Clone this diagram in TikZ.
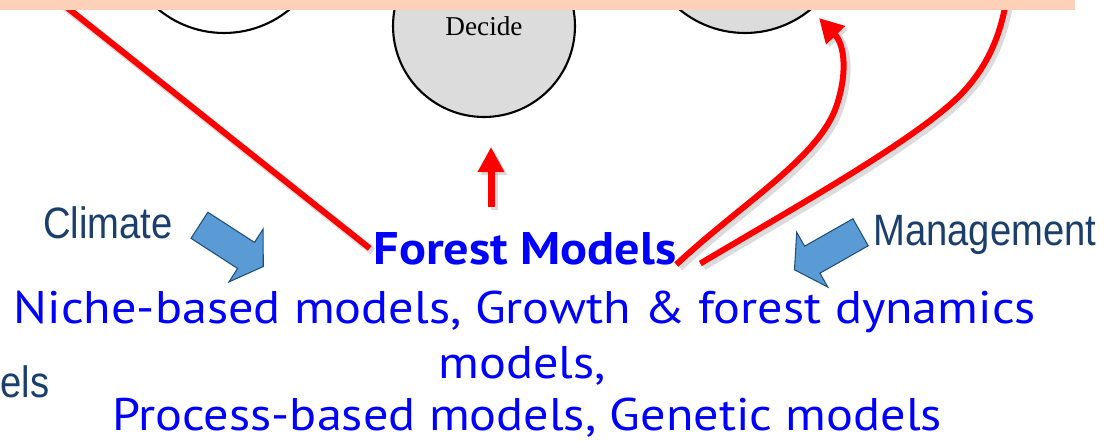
\documentclass[tikz,border=0pt]{standalone}
\usepackage{fontspec}
\usepackage{xcolor}
\usepackage{tikz}
\usetikzlibrary{positioning, arrows.meta, shapes.arrows}
\newfontfamily\labelfont[FakeStretch=0.87]{Liberation Sans}
\newfontfamily\modelfont[FakeStretch=1.1]{PT Sans}
\newfontfamily\circlefont{Liberation Serif}
\definecolor{band-peach}{HTML}{FFD0B8}
\definecolor{circ-gray}{HTML}{DCDCDC}
\definecolor{drv-navy}{HTML}{1B3F6C}
\definecolor{drv-blue}{HTML}{5B9BD5}
\definecolor{drv-edge}{HTML}{1F4E79}
\definecolor{fm-red}{HTML}{FF0000}
\definecolor{fm-blue}{HTML}{0000FF}

\begin{document}
\begin{tikzpicture}[x=0.02cm, y=-0.02cm,
    stage/.style={circle, draw=black, line width=1.2pt, minimum size=4.12cm, inner sep=0pt},
    drv/.style={font=\labelfont\fontsize{25}{30}\selectfont, text=drv-navy, inner sep=0pt},
    drvarrow/.style={single arrow, draw=drv-edge, line width=0.6pt, fill=drv-blue,
                     minimum height=1.52cm, inner xsep=0pt, inner ysep=0.3cm,
                     single arrow head extend=0.32cm, single arrow tip angle=114},
    fm/.style={font=\modelfont\fontsize{26}{31}\selectfont, text=fm-blue, inner sep=0pt},
    redlink/.style={draw=fm-red, line width=0.12cm},
    redshadow/.style={draw=black!40, opacity=0.35, line width=0.16cm,
                      transform canvas={shift={(0.06cm,-0.06cm)}}},
]
    \useasboundingbox (0,0) rectangle (1108,440);
    \clip (0,0) rectangle (1108,440);

    % cycle circles, cut by the top band
    \node[stage, fill=white] (cycA) at (224,-70) {};
    \node[stage, fill=circ-gray, minimum size=3.64cm,
          font=\circlefont\fontsize{15.5}{18}\selectfont, text=black] (decide) at (484,26) {Decide};
    \node[stage, fill=circ-gray] (cycC) at (745,-70) {};

    % forest models text
    \node[fm, inner sep=2pt, font=\modelfont\bfseries\fontsize{26}{31}\selectfont,
          anchor=base] (fm) at (525,264) {Forest Models};
    \node[fm, anchor=base] (kinds1) at (525,323) {Niche-based models, Growth \& forest dynamics};
    \node[fm, anchor=base] (kinds2) at (522,378) {models,};
    \node[fm, anchor=base, text depth=0pt] (kinds3) at (527,430) {Process-based models, Genetic models};

    % drivers
    \node[drv, anchor=base west] (climate) at (43,238) {Climate};
    \node[drv, anchor=base west] (mgmt) at (873,245) {Management};
    \node[drv, anchor=base west] (cut) at (0,397) {els};
    \node[drvarrow, anchor=tail, rotate=-32.9] (climarrow) at (199,225) {};
    \node[drvarrow, anchor=tail, rotate=209.6] (mgmtarrow) at (861,232) {};

    % red links
    \coordinate (l1top) at (45,-10);
    \coordinate (l3top) at (1008,-12);
    \coordinate (tipC) at (819,18);
    \coordinate (upfoot) at (491,207);
    \coordinate (uptip) at (491,147);
    \foreach \s in {redshadow, redlink} {
        \draw[\s] (l1top) -- (fm.west);
        \draw[\s, -{Triangle[length=0.48cm, width=0.5cm]}]
            ([shift={(-4,-4)}]fm.south east) .. controls (740,205) and (815,160) .. (835,110)
            .. controls (848,75) and (845,45) .. (tipC);
        \draw[\s] ([shift={(20,-5)}]fm.south east) .. controls (790,210) and (925,135) .. (965,90)
            .. controls (990,62) and (1003,30) .. (l3top);
        \draw[\s, line width=0.14cm, -{Triangle[length=0.5cm, width=0.5cm]}] (upfoot) -- (uptip);
    }

    % top band
    \fill[band-peach] (0,-20) rectangle (1075,10);
\end{tikzpicture}
\end{document}
